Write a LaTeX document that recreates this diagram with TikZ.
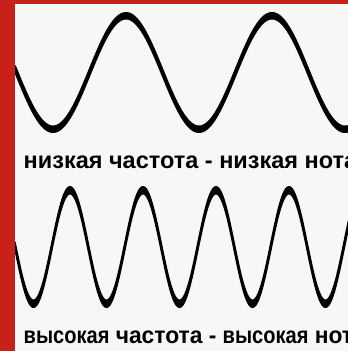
\documentclass[tikz,border=0pt]{standalone}
\usepackage{fontspec}
\usepackage{graphicx}
\setmainfont{Liberation Sans}
\definecolor{bgc}{RGB}{247,247,247}
\definecolor{redband}{RGB}{200,32,26}
\newcommand{\narrowword}[1]{\scalebox{0.88}[1]{#1}}
\tikzset{
  wave/.style={fill=black, draw=black, line join=round},
  lbl/.style={anchor=base west, inner sep=0pt, font=\bfseries\fontsize{23.5}{28}\selectfont, text=black}
}
\begin{document}
\begin{tikzpicture}[x=1pt,y=-1pt]
\useasboundingbox (0,0) rectangle (348,351);
\clip (0,0) rectangle (348,351);
\fill[bgc] (0,0) rectangle (348,351);
% low-frequency wave
\filldraw[wave, line width=2pt]
  plot[domain=15:350, samples=240] (\x, {69.75+56.75*cos((\x-53)*2.465753)})
  -- plot[domain=350:15, samples=240] (\x, {75.25+56.75*cos((\x-53)*2.465753)}) -- cycle;
% high-frequency wave
\filldraw[wave, line width=1.5pt]
  plot[domain=15:350, samples=360] (\x, {243.5-56.75*cos((\x-70)*4.931507)})
  -- plot[domain=350:15, samples=360] (\x, {250.5-56.75*cos((\x-70)*4.931507)}) -- cycle;
% labels
\node[lbl] (low) at (23.5,168.5) {низкая частота - низкая нота};
\node[lbl] (high) at (23.5,343.5) {\scalebox{0.97}[1]{\narrowword{высокая} частота - \narrowword{высокая} нота}};
% red frame
\fill[redband] (0,0) rectangle (15,351);
\fill[redband] (0,0) rectangle (348,3.5);
\end{tikzpicture}
\end{document}
